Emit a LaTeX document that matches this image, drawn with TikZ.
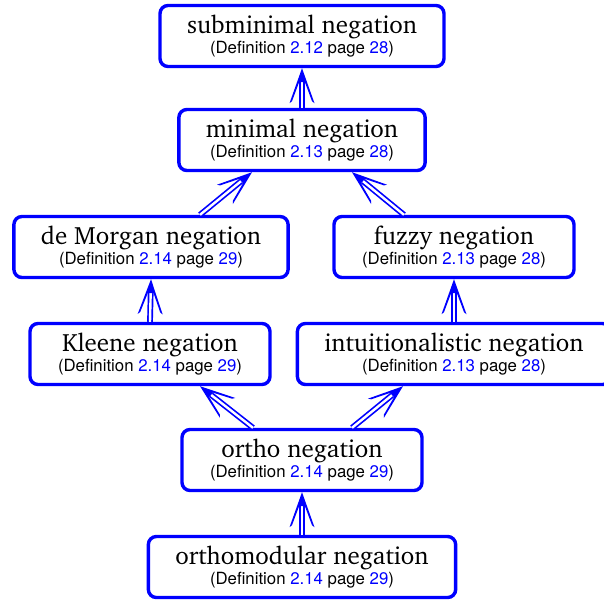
\documentclass[tikz,border=0pt]{standalone}
\usepackage[T1]{fontenc}
\usepackage{fontspec}
\newfontfamily\subfont{TeX Gyre Heros}
\newcommand\titfont{\fontencoding{T1}\fontfamily{bch}\selectfont}
\usetikzlibrary{decorations.markings}
\newcommand\nbox[3]{{\titfont\fontsize{25}{28}\selectfont #1}\\[1pt]{\subfont\fontsize{16.8}{19}\selectfont (Definition \textcolor{blue}{#2} page \textcolor{blue}{#3})}}
\begin{document}
\begin{tikzpicture}[x=1pt,y=1pt,
  negbox/.style={draw=blue, line width=3.4pt, rounded corners=8pt, minimum width=240pt, minimum height=61pt, inner xsep=27pt, inner ysep=4pt, align=center},
  headshape/.style={fill=blue, draw=none},
  dbl/.style={draw=blue, line width=1.7pt, double=white, double distance=2.4pt, shorten >=14pt,
    postaction={decorate, decoration={markings, mark=at position 1 with {\fill[headshape] (0,0) -- (-35,12.5) -- (-33,10) -- (-14,2.9) -- (-14,-2.9) -- (-33,-10) -- (-35,-12.5) -- cycle;}}}}]
\useasboundingbox (0,0) rectangle (604,-603);
\node[negbox] (sub) at (302,-36) {\nbox{subminimal negation}{2.12}{28}};
\node[negbox] (min) at (302,-140) {\nbox{minimal negation}{2.13}{28}};
\node[negbox] (dm) at (151,-247) {\nbox{de Morgan negation}{2.14}{29}};
\node[negbox] (fz) at (454,-247) {\nbox{fuzzy negation}{2.13}{28}};
\node[negbox] (kl) at (150,-354) {\nbox{Kleene negation}{2.14}{29}};
\node[negbox] (in) at (454,-354) {\nbox{intuitionalistic negation}{2.13}{28}};
\node[negbox] (or) at (302,-460) {\nbox{ortho negation}{2.14}{29}};
\node[negbox] (om) at (302,-567) {\nbox{orthomodular negation}{2.14}{29}};
\draw[dbl] (min.north) -- (sub.south);
\draw[dbl] ([xshift=49pt]dm.north) -- ([xshift=-50pt]min.south);
\draw[dbl] ([xshift=-50pt]fz.north) -- ([xshift=50pt]min.south);
\draw[dbl] (kl.north) -- (dm.south);
\draw[dbl] (in.north) -- (fz.south);
\draw[dbl] ([xshift=-49pt]or.north) -- ([xshift=50pt]kl.south);
\draw[dbl] ([xshift=50pt]or.north) -- ([xshift=-51pt]in.south);
\draw[dbl] (om.north) -- (or.south);
\end{tikzpicture}
\end{document}
